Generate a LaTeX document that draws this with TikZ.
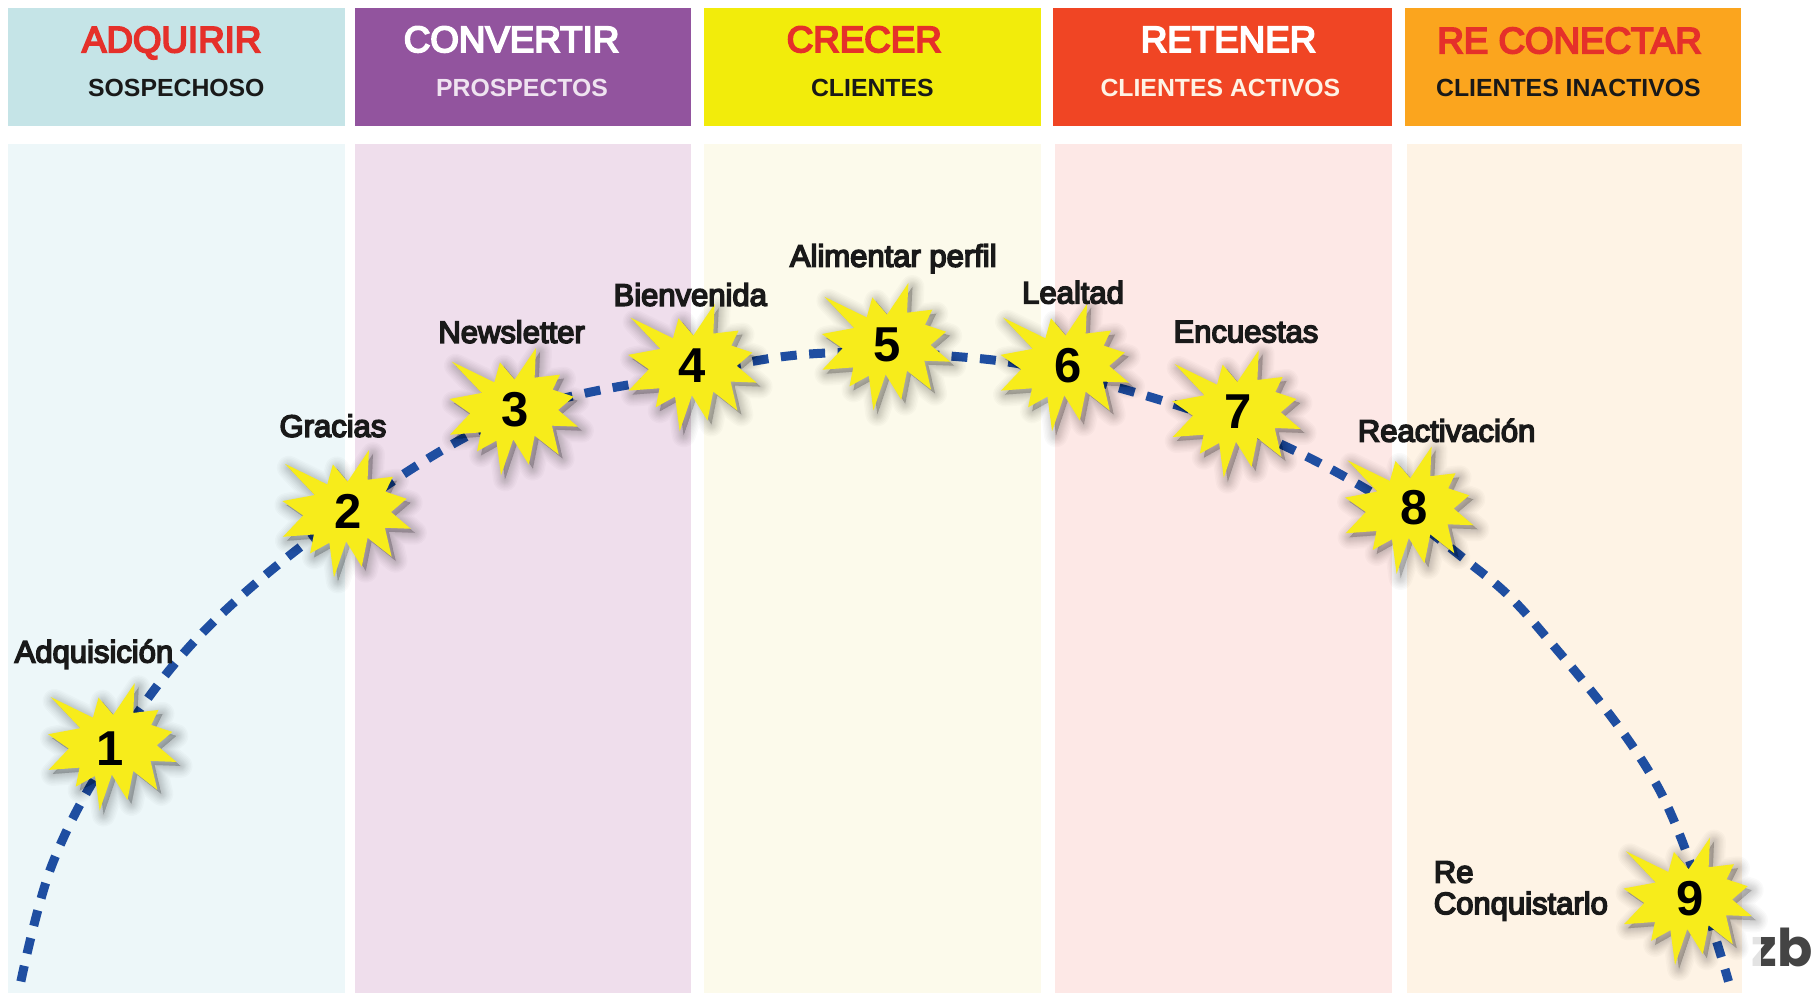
\documentclass[tikz,border=0pt]{standalone}
\usepackage{fontspec}
\setmainfont{Liberation Sans}
\newfontfamily\fb[FakeBold=5]{Liberation Sans}
\newfontfamily\logofont{Poppins}
\usetikzlibrary{calc}
\definecolor{hA}{HTML}{C5E4E7}\definecolor{hB}{HTML}{92549E}\definecolor{hC}{HTML}{F2EC0B}\definecolor{hD}{HTML}{F04524}\definecolor{hE}{HTML}{FBA51E}
\definecolor{pA}{HTML}{EDF7F9}\definecolor{pB}{HTML}{EFDEEC}\definecolor{pC}{HTML}{FCFAEB}\definecolor{pD}{HTML}{FDE8E6}\definecolor{pE}{HTML}{FEF3E5}
\definecolor{tred}{HTML}{E5302A}\definecolor{tpale}{HTML}{EFE3F0}\definecolor{sy}{HTML}{F7EC1B}\definecolor{dashb}{HTML}{1F4EA1}\definecolor{logoc}{HTML}{444444}
\tikzset{
 x=1.16pt,y=-1.16pt,
 head/.style={anchor=center,inner sep=0pt,font=\fb\fontsize{36.7}{36.7}\selectfont},
 sub/.style={anchor=center,inner sep=0pt,font=\bfseries\fontsize{24.8}{24.8}\selectfont},
 lab/.style={anchor=center,inner sep=0pt,text=black!90,font=\fb\fontsize{31}{31.5}\selectfont},
 num/.style={anchor=center,inner sep=0pt,font=\bfseries\fontsize{49}{49}\selectfont},
}
\newcommand{\starpath}{(22.1,-62.7) -- (20.7,-33) -- (46,-36) -- (38.7,-21) -- (59.8,-14) -- (44.2,-0.7) -- (64,16) -- (38,15) -- (44.8,44) -- (20.7,25) -- (14.9,54) -- (-0.7,28.7) -- (-12.9,64.7) -- (-17.5,30) -- (-36.8,40.7) -- (-33,21.7) -- (-63.9,24) -- (-43.7,2.7) -- (-64.4,-11.7) -- (-32.2,-17.7) -- (-62,-49) -- (-19.6,-28.3) -- (-14,-48.3) -- (0.7,-31)--cycle}
\newcommand{\burst}[6]{%
 \begin{scope}[shift={(#1,#2)},x=1pt,y=-1pt]
  \foreach \w in {24,21,18,15.5,13,11,9,7,5,3,1}{\fill[black,opacity=.018,line join=round,draw=black,line width=\w pt,shift={(4,4)}] \starpath;}
  \fill[sy] \starpath;
 \end{scope}
 \node[num] (#3) at (#5,#6) {#4};}
\begin{document}
\begin{tikzpicture}
\useasboundingbox (0,0) rectangle (1568,856);
% header boxes
\fill[hA] (7,7) rectangle (297,109);
\fill[hB] (306,7) rectangle (596,109);
\fill[hC] (607,7) rectangle (897,109);
\fill[hD] (908,7) rectangle (1200,109);
\fill[hE] (1211,7) rectangle (1501,109);
% panels
\fill[pA] (7,124) rectangle (297,856);
\fill[pB] (306,124) rectangle (596,856);
\fill[pC] (607,124) rectangle (897,856);
\fill[pD] (909,124) rectangle (1200,856);
\fill[pE] (1213,124) rectangle (1502,856);
% header text
\node[head,text=tred] (h1) at (148,37) {ADQUIRIR};
\node[sub,text=black!90] (s1t) at (152,76) {SOSPECHOSO};
\node[head,text=white] (h2) at (441,34) {CONVERTIR};
\node[sub,text=tpale] (s2t) at (450,76) {PROSPECTOS};
\node[head,text=tred] (h3) at (745,34) {CRECER};
\node[sub,text=black!90] (s3t) at (752,76) {CLIENTES};
\node[head,text=white] (h4) at (1059,34) {RETENER};
\node[sub,text=pE] (s4t) at (1052,76) {CLIENTES ACTIVOS};
\node[head,text=tred] (h5) at (1353,35) {RE CONECTAR};
\node[sub,text=black!90] (s5t) at (1352,76) {CLIENTES INACTIVOS};
% logo
\node[anchor=east,inner sep=0pt,text=logoc,font=\logofont\bfseries\fontsize{52}{52}\selectfont] (logo) at (1563,817) {zb};
% arc
\coordinate (a0) at (18,846); \coordinate (a1) at (45,745); \coordinate (a2) at (95,650);
\coordinate (a3) at (175,545); \coordinate (a4) at (299,442); \coordinate (a5) at (443,357);
\coordinate (a6) at (597,322); \coordinate (a7) at (700,305); \coordinate (a8) at (820,307);
\coordinate (a9) at (918,322); \coordinate (a10) at (1066,367); \coordinate (a11) at (1175,420);
\coordinate (a12) at (1260,480); \coordinate (a13) at (1325,540); \coordinate (a14) at (1430,680); \coordinate (a15) at (1490,846);
\draw[dashb,line width=9pt,dash pattern=on 16pt off 12.5pt] plot[smooth,tension=.6] coordinates {(a0)(a1)(a2)(a3)(a4)(a5)(a6)(a7)(a8)(a9)(a10)(a11)(a12)(a13)(a14)(a15)};
% white halo of star 9
\fill[white,opacity=.85] (1502,800) rectangle (1518,856);
% stars
\burst{97}{643}{n1}{1}{95}{645}
\burst{299}{442}{n2}{2}{300}{441}
\burst{443}{354}{n3}{3}{444}{353}
\burst{597}{316}{n4}{4}{597}{315}
\burst{764}{298}{n5}{5}{765}{297}
\burst{918}{316}{n6}{6}{921}{315}
\burst{1066}{356}{n7}{7}{1067}{355}
\burst{1215}{439}{n8}{8}{1219}{438}
\burst{1455}{776}{n9}{9}{1457}{775}
% labels
\node[lab] (l1) at (81,564) {Adquisición};
\node[lab] (l2) at (287,367) {Gracias};
\node[lab] (l3) at (441,286) {Newsletter};
\node[lab] (l4) at (595,254) {Bienvenida};
\node[lab] (l5) at (770,223) {Alimentar perfil};
\node[lab] (l6) at (925,252) {Lealtad};
\node[lab] (l7) at (1074,286) {Encuestas};
\node[lab] (l8) at (1247,371) {Reactivación};
\node[lab,align=left] (l9) at (1311,768) {Re\\Conquistarlo};
\end{tikzpicture}
\end{document}
